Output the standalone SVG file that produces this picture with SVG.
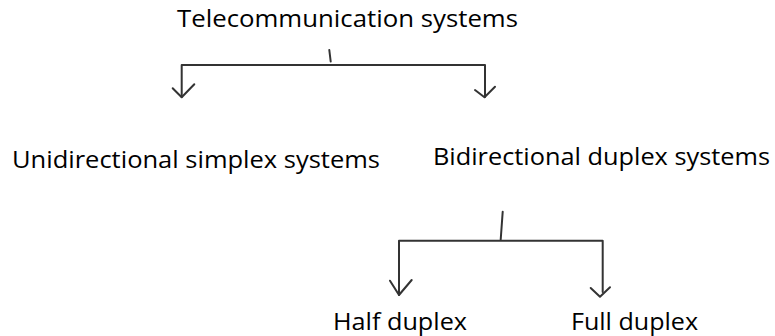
<svg xmlns="http://www.w3.org/2000/svg" width="775" height="336" viewBox="0 0 775 336">
<style>
text{font-family:"Open Sans","Noto Sans","Liberation Sans",sans-serif;font-size:23.5px;fill:#000}
.c{fill:none;stroke:#333;stroke-width:2;stroke-linecap:round;stroke-linejoin:round}
</style>
<rect width="775" height="336" fill="#fff"/>
<g id="n-telecom"><text x="177" y="27" textLength="341" lengthAdjust="spacingAndGlyphs">Telecommunication systems</text></g>
<g id="n-uni"><text x="12" y="168" textLength="368" lengthAdjust="spacingAndGlyphs">Unidirectional simplex systems</text></g>
<g id="n-bi"><text x="433" y="165" textLength="337" lengthAdjust="spacingAndGlyphs">Bidirectional duplex systems</text></g>
<g id="n-half"><text x="333" y="330" textLength="134" lengthAdjust="spacingAndGlyphs">Half duplex</text></g>
<g id="n-full"><text x="571" y="330" textLength="127" lengthAdjust="spacingAndGlyphs">Full duplex</text></g>
<g id="connectors">
<path class="c" d="M329.3 50 L330.7 61.5"/>
<path class="c" d="M181.7 97 V65 H485 V97"/>
<path class="c" d="M172.7 88.3 L181.7 97.3 L194.3 84.3"/>
<path class="c" d="M475 90 L484.5 97.3 L495 86.7"/>
<path class="c" d="M502.7 211.7 L500.7 239.5"/>
<path class="c" d="M399 295 V240.7 H602.7 V292"/>
<path class="c" d="M390 280.7 L399 295 L411.7 280"/>
<path class="c" d="M590.7 288 L600 296.7 L610 287.3"/>
</g>
</svg>
